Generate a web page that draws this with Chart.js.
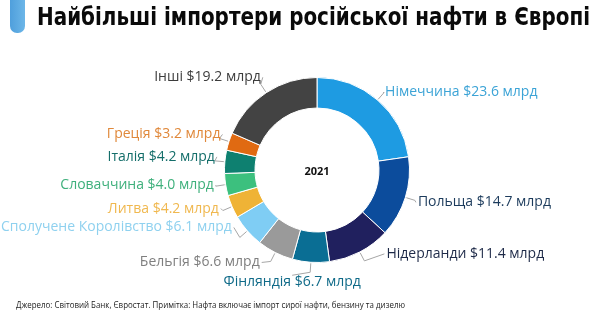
<!DOCTYPE html>
<html>
<head>
<meta charset="utf-8">
<script src="https://cdn.jsdelivr.net/npm/chart.js@4.4.0/dist/chart.umd.min.js"></script>
<style>
  html, body { margin: 0; padding: 0; background: #fff; }
  #wrap { position: relative; width: 599px; height: 322px; }
</style>
</head>
<body>
<div id="wrap"><canvas id="importChart"></canvas></div>
<script>
// countries, clockwise from 12 o'clock
let countries = ["Німеччина", "Польща", "Нідерланди", "Фінляндія", "Бельгія", "Сполучене Королівство", "Литва", "Словаччина", "Італія", "Греція", "Інші"];
let importValues = [23.6, 14.7, 11.4, 6.7, 6.6, 6.1, 4.2, 4.0, 4.2, 3.2, 19.2];
let sliceColors = ["#1e9be2", "#0c4c9c", "#20205e", "#0a6e94", "#9a9a9a", "#7fcdf4", "#efb336", "#3cc07e", "#0e8070", "#e06a12", "#434343"];
let labelColors = ["#3ba3d6", "#1c3b5c", "#1e2a48", "#0f6a88", "#7f7f7f", "#8fd1ef", "#f0b84f", "#3fb07c", "#146e6a", "#e0883a", "#3c3c3c"];
let centerLabel = "2021";

// label layout: alignment and small nudges from the radial leader point
let labelAlign = ["left", "left", "left", "center", "right", "right", "right", "right", "right", "right", "right"];
let labelShift = [[1, 0], [3, 2], [22, -7], [-18, 10], [-11, 1], [-8, -10], [-4, -2], [-2, -1], [0, -4], [1, -4], [0, -7]];

function formatLabel(i) {
    return countries[i] + " $" + importValues[i].toFixed(1) + " млрд";
}

const sliceLabels = {
    id: 'sliceLabels',
    afterDatasetsDraw(chart) {
        const ctx = chart.ctx;
        const meta = chart.getDatasetMeta(0);
        ctx.save();
        ctx.font = "14px 'Open Sans'";
        ctx.textBaseline = "middle";
        meta.data.forEach((arc, i) => {
            const mid = (arc.startAngle + arc.endAngle) / 2;
            const r = arc.outerRadius;
            const cos = Math.cos(mid), sin = Math.sin(mid);
            const x0 = arc.x + cos * (r + 1), y0 = arc.y + sin * (r + 1);
            const x1 = arc.x + cos * (r + 10), y1 = arc.y + sin * (r + 10);
            const tx = x1 + labelShift[i][0], ty = y1 + labelShift[i][1];
            const align = labelAlign[i];

            ctx.strokeStyle = "#a6a6a6";
            ctx.lineWidth = 1;
            ctx.beginPath();
            ctx.moveTo(x0, y0);
            ctx.lineTo(x1, y1);
            if (align === "left") ctx.lineTo(tx - 2, ty);
            else if (align === "right") ctx.lineTo(tx + 2, ty);
            else ctx.lineTo(tx, ty - 7);
            ctx.stroke();

            ctx.fillStyle = labelColors[i];
            ctx.textAlign = align;
            ctx.fillText(formatLabel(i), tx, ty);
        });

        // centre year
        ctx.font = "bold 11px 'Open Sans'";
        ctx.fillStyle = "#111";
        ctx.textAlign = "center";
        ctx.fillText(centerLabel, meta.data[0].x, meta.data[0].y + 2);
        ctx.restore();
    }
};

const headerFooter = {
    id: 'headerFooter',
    afterDraw(chart) {
        const ctx = chart.ctx;
        ctx.save();
        // blue tab
        const grad = ctx.createLinearGradient(10, 0, 25, 0);
        grad.addColorStop(0, "#4f9fdc");
        grad.addColorStop(1, "#6cb6e8");
        ctx.fillStyle = grad;
        ctx.beginPath();
        ctx.roundRect(10, -10, 15, 43, 7);
        ctx.fill();

        ctx.fillStyle = "#0a0a0a";
        ctx.textAlign = "left";
        ctx.textBaseline = "alphabetic";
        ctx.font = "bold 24px 'DejaVu Sans'";
        ctx.fillText("Найбільші імпортери російської нафти в Європі", 37, 25, 553);

        ctx.font = "9.5px 'Open Sans'";
        ctx.fillStyle = "#222";
        ctx.fillText("Джерело: Світовий Банк, Євростат. Примітка: Нафта включає імпорт сирої нафти, бензину та дизелю", 16, 308, 389);
        ctx.restore();
    }
};

new Chart(document.getElementById('importChart'), {
    type: 'doughnut',
    data: {
        labels: countries,
        datasets: [{
            data: importValues,
            backgroundColor: sliceColors,
            borderColor: "#ffffff",
            borderWidth: 1
        }]
    },
    options: {
        responsive: true,
        maintainAspectRatio: false,
        animation: false,
        cutout: '67%',
        layout: { padding: { top: 77, bottom: 59, left: 224, right: 189 } },
        plugins: {
            legend: { display: false },
            tooltip: { enabled: false }
        }
    },
    plugins: [sliceLabels, headerFooter]
});
</script>
</body>
</html>
